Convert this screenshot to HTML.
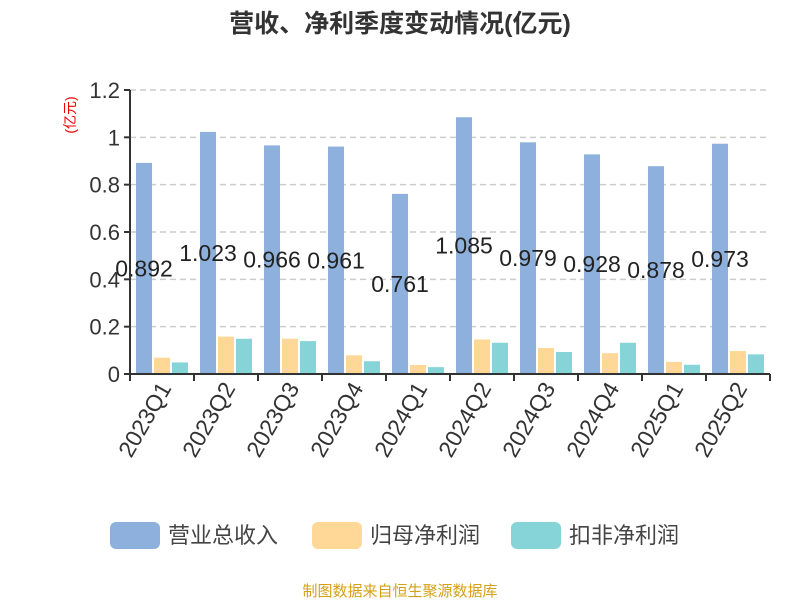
<!DOCTYPE html>
<html><head><meta charset="utf-8"><style>
body{margin:0;background:#fff;font-family:"Liberation Sans","Noto Sans CJK SC",sans-serif}
</style></head><body>
<svg width="800" height="600" font-family="Liberation Sans, Noto Sans CJK SC, sans-serif">
<text x="400" y="32" text-anchor="middle" font-size="25" font-weight="bold" fill="#333">营收、净利季度变动情况(亿元)</text>
<text transform="translate(75,115) rotate(-90)" text-anchor="middle" font-size="14" fill="#e00">(亿元)</text>
<g id="grid"></g><g id="bars"></g><g id="axes"></g>
<g>
<rect x="110" y="522" width="50" height="27" rx="6" fill="#8eb0dc"/>
<text x="168" y="543" font-size="22" fill="#444">营业总收入</text>
<rect x="312" y="522" width="50" height="27" rx="6" fill="#ffd897"/>
<text x="370" y="543" font-size="22" fill="#444">归母净利润</text>
<rect x="511" y="522" width="50" height="27" rx="6" fill="#86d4d8"/>
<text x="569" y="543" font-size="22" fill="#444">扣非净利润</text>
</g>
<text x="400" y="596" text-anchor="middle" font-size="15" fill="#d4a017">制图数据来自恒生聚源数据库</text>
</svg>
<script>
const categories=["2023Q1","2023Q2","2023Q3","2023Q4","2024Q1","2024Q2","2024Q3","2024Q4","2025Q1","2025Q2"];
const revenue=[0.892,1.023,0.966,0.961,0.761,1.085,0.979,0.928,0.878,0.973];
const netProfit=[0.069,0.158,0.149,0.079,0.038,0.146,0.110,0.088,0.051,0.097];
const deductedProfit=[0.049,0.149,0.139,0.054,0.029,0.132,0.093,0.132,0.039,0.083];
const yTicks=[0,0.2,0.4,0.6,0.8,1,1.2];
const yTickLabels=["0","0.2","0.4","0.6","0.8","1","1.2"];
const NS="http://www.w3.org/2000/svg";
const x0=130,x1=770,y0=374,yTop=90,yMax=1.2;
const bw=(x1-x0)/categories.length;
const y=v=>y0-(v/yMax)*(y0-yTop);
const xc=i=>x0+i*bw;
function mk(tag,attrs,parent){const e=document.createElementNS(NS,tag);for(const k in attrs)e.setAttribute(k,attrs[k]);document.getElementById(parent).appendChild(e);return e;}
yTicks.forEach((t,i)=>{
 if(t>0){const l=mk('line',{x1:x0,x2:x1,y1:y(t),y2:y(t),stroke:'#ccc','stroke-width':1.5,'stroke-dasharray':'6,4'},'grid');
 
 }
 const tk=mk('line',{x1:x0-6,x2:x0,y1:y(t),y2:y(t),stroke:'#333','stroke-width':2},'axes');
 
 
 const tx=mk('text',{x:x0-10,y:y(t)+8,'text-anchor':'end','font-size':22,fill:'#333'},'axes');
 tx.textContent=yTickLabels[i];
 
 
});
const series=[[revenue,'#8eb0dc',6],[netProfit,'#ffd897',24],[deductedProfit,'#86d4d8',42]];
categories.forEach((c,i)=>{
 series.forEach(([arr,col,off],s)=>{
  const r=mk('rect',{x:xc(i)+off,y:y(arr[i]),width:16,height:y0-y(arr[i]),fill:col},'bars');
  
  
 });
 const lb=mk('text',{x:xc(i)+14,y:(y(revenue[i])+y0)/2+8,'text-anchor':'middle','font-size':23,fill:'#222'},'bars');
 lb.textContent=revenue[i].toFixed(3);
 
 
 const tk=mk('line',{x1:xc(i),x2:xc(i),y1:y0,y2:y0+7,stroke:'#333','stroke-width':2},'axes');
 
 
 const cx=xc(i)+bw/2;
 const xl=mk('text',{x:cx+10,y:y0+14,'text-anchor':'end','font-size':23,fill:'#333',transform:`rotate(-60 ${cx+10} ${y0+14})`},'axes');
 xl.textContent=c;
 
 
});
const lt=mk('line',{x1:x1,x2:x1,y1:y0,y2:y0+7,stroke:'#333','stroke-width':2},'axes');


const xa=mk('line',{x1:x0,x2:x1,y1:y0,y2:y0,stroke:'#333','stroke-width':2},'axes');


const ya=mk('line',{x1:x0,x2:x0,y1:yTop,y2:y0,stroke:'#333','stroke-width':2},'axes');


</script>
</body></html>
